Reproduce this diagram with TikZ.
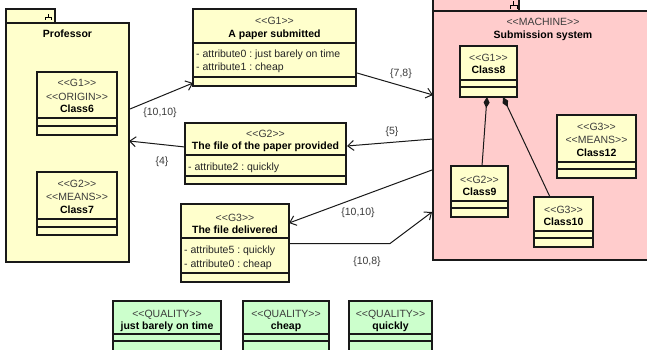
\documentclass[tikz,border=0pt]{standalone}
\usepackage{fontspec}
\setmainfont{Liberation Sans}[Ligatures=TeXOff]
\usetikzlibrary{arrows.meta,calc}
\definecolor{classfill}{RGB}{255,255,204}
\definecolor{machfill}{RGB}{255,204,204}
\definecolor{qualfill}{RGB}{204,255,204}
\definecolor{edgecol}{RGB}{25,25,25}
\definecolor{textgray}{RGB}{60,60,60}
\newcommand{\stereotype}[1]{<{}<#1>{}>}
\frenchspacing
\begin{document}
\begin{tikzpicture}[x=1pt,y=-1pt,
  font=\fontsize{10.5}{12}\selectfont,
  box/.style={draw=edgecol,line width=1.5pt,anchor=north west,inner sep=0pt,outer sep=0pt},
  sepline/.style={draw=edgecol,line width=1.2pt},
  stereo/.style={anchor=base,inner sep=0pt,text=textgray},
  title/.style={anchor=base,inner sep=0pt,font=\fontsize{10.5}{12}\selectfont\bfseries},
  attr/.style={anchor=base west,inner sep=0pt,text=black!85},
  mult/.style={anchor=base,inner sep=0pt,text=textgray},
  assoc/.style={draw=edgecol,line width=1pt,-{Straight Barb[length=6pt,width=10pt]}},
  compo/.style={draw=edgecol,line width=1pt,{Diamond[length=11pt,width=6pt]}-},
  pkgicon/.style={draw=black,line width=0.8pt}
]
\useasboundingbox (0,0) rectangle (647,350);
\clip (0,0) rectangle (647,350);
\fill[white] (0,0) rectangle (647,350);

% ---------- package: Professor ----------
\node[box,fill=classfill,minimum width=49pt,minimum height=14pt] (proftab) at (6,9) {};
\draw[pkgicon] (45,20) -- (45,17) -- (51,17) -- (51,20) (48,17) -- (48,14);
\node[box,fill=classfill,minimum width=123pt,minimum height=239pt] (prof) at (6,23) {};
\node[title] (proflabel) at (67.5,38) {Professor};

% Class6
\node[box,fill=classfill,minimum width=80pt,minimum height=63pt] (c6) at (37,72) {};
\draw[sepline] (37,118) -- (117,118) (37,126) -- (117,126);
\node[stereo] at (77,87) {\stereotype{G1}};
\node[stereo] at (77,100) {\stereotype{ORIGIN}};
\node[title] at (77,113) {Class6};

% Class7
\node[box,fill=classfill,minimum width=80pt,minimum height=63pt] (c7) at (37,172) {};
\draw[sepline] (37,219) -- (117,219) (37,227) -- (117,227);
\node[stereo] at (77,187) {\stereotype{G2}};
\node[stereo] at (77,200) {\stereotype{MEANS}};
\node[title] at (77,213) {Class7};

% ---------- package: Submission system ----------
\node[box,fill=machfill,minimum width=86pt,minimum height=17pt] (subtab) at (433,-6) {};
\draw[pkgicon] (510,9) -- (510,5) -- (517,5) -- (517,9) (513.5,5) -- (513.5,1);
\node[box,fill=machfill,minimum width=220pt,minimum height=249pt] (sub) at (433,11) {};
\node[stereo] at (543,26) {\stereotype{MACHINE}};
\node[title] at (543,39) {Submission system};

% Class8
\node[box,fill=classfill,minimum width=57pt,minimum height=51pt] (c8) at (460,46) {};
\draw[sepline] (460,80) -- (517,80) (460,87) -- (517,87);
\node[stereo] at (488.5,62) {\stereotype{G1}};
\node[title] at (488.5,74) {Class8};

% Class9
\node[box,fill=classfill,minimum width=57pt,minimum height=51pt] (c9) at (451,166) {};
\draw[sepline] (451,201) -- (508,201) (451,208) -- (508,208);
\node[stereo] at (479.5,183) {\stereotype{G2}};
\node[title] at (479.5,195) {Class9};

% Class10
\node[box,fill=classfill,minimum width=59pt,minimum height=50pt] (c10) at (534,197) {};
\draw[sepline] (534,231) -- (593,231) (534,238) -- (593,238);
\node[stereo] at (563.5,213) {\stereotype{G3}};
\node[title] at (563.5,225) {Class10};

% Class12
\node[box,fill=classfill,minimum width=79pt,minimum height=63pt] (c12) at (557,115) {};
\draw[sepline] (557,162) -- (636,162) (557,169) -- (636,169);
\node[stereo] at (596.5,130) {\stereotype{G3}};
\node[stereo] at (596.5,143) {\stereotype{MEANS}};
\node[title] at (596.5,156) {Class12};

% compositions
\draw[compo] ($(c8.south west)+(27,0)$) -- ($(c9.north west)+(31,0)$);
\draw[compo] ($(c8.south west)+(43,0)$) -- ($(c10.north west)+(16,0)$);

% ---------- goal classes ----------
\node[box,fill=classfill,minimum width=163pt,minimum height=77pt] (paper) at (193,9) {};
\draw[sepline] (193,43) -- (356,43) (193,77) -- (356,77);
\node[stereo] at (274.5,25) {\stereotype{G1}};
\node[title] at (274.5,37.5) {A paper submitted};
\node[attr] at (196,57.5) {- attribute0 : just barely on time};
\node[attr] at (196,71) {- attribute1 : cheap};

\node[box,fill=classfill,minimum width=161pt,minimum height=61pt] (file2) at (185,123) {};
\draw[sepline] (185,155) -- (346,155) (185,176) -- (346,176);
\node[stereo] at (265.5,137) {\stereotype{G2}};
\node[title] at (265.5,149) {The file of the paper provided};
\node[attr] at (188,170) {- attribute2 : quickly};

\node[box,fill=classfill,minimum width=108pt,minimum height=78pt] (deliv) at (181,204) {};
\draw[sepline] (181,238) -- (289,238) (181,273) -- (289,273);
\node[stereo] at (235,221) {\stereotype{G3}};
\node[title] at (235,233) {The file delivered};
\node[attr] at (184,253) {- attribute5 : quickly};
\node[attr] at (184,267) {- attribute0 : cheap};

% ---------- quality classes ----------
\node[box,fill=qualfill,minimum width=108pt,minimum height=60pt] (q1) at (113,301) {};
\draw[sepline] (113,334) -- (221,334) (113,341) -- (221,341);
\node[stereo] at (167,317) {\stereotype{QUALITY}};
\node[title] at (167,329) {just barely on time};

\node[box,fill=qualfill,minimum width=86pt,minimum height=60pt] (q2) at (243,301) {};
\draw[sepline] (243,334) -- (329,334) (243,341) -- (329,341);
\node[stereo] at (286,317) {\stereotype{QUALITY}};
\node[title] at (286,329) {cheap};

\node[box,fill=qualfill,minimum width=83pt,minimum height=60pt] (q3) at (349,301) {};
\draw[sepline] (349,334) -- (432,334) (349,341) -- (432,341);
\node[stereo] at (390.5,317) {\stereotype{QUALITY}};
\node[title] at (390.5,329) {quickly};

% ---------- associations ----------
\draw[assoc] ($(prof.north east)+(1,86)$) -- ($(paper.south west)+(0,-3)$);
\node[mult] (m1) at (160,115) {\{10,10\}};

\draw[assoc] ($(paper.south east)+(1,-13)$) -- ($(sub.north west)+(0,84)$);
\node[mult] (m2) at (401,77) {\{7,8\}};

\draw[assoc] ($(sub.north west)+(0,128)$) -- ($(file2.north east)+(1,23)$);
\node[mult] (m3) at (392,134) {\{5\}};

\draw[assoc] ($(file2.north west)+(0,24)$) -- ($(prof.north east)+(0,118)$);
\node[mult] (m4) at (162,164) {\{4\}};

\draw[assoc] ($(sub.north west)+(-1,159)$) -- ($(deliv.north east)+(0,19)$);
\node[mult] (m5) at (358,215) {\{10,10\}};

\draw[assoc] ($(deliv.north east)+(0,39.5)$) -- ($(deliv.north east)+(101,39.5)$) -- ($(sub.north west)+(-1,201)$);
\node[mult] (m6) at (367,264) {\{10,8\}};
\end{tikzpicture}
\end{document}
